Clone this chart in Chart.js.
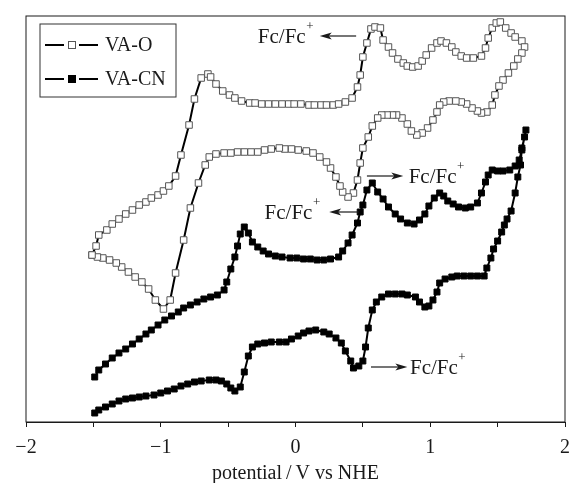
<!DOCTYPE html>
<html lang="en">
  <head>
    <meta charset="UTF-8" />
    <title>VA-O / VA-CN cyclic voltammograms</title>
    <script src="https://cdn.jsdelivr.net/npm/chart.js@4.4.1/dist/chart.umd.min.js"></script>
    <style>
      body { margin: 0; background: #fff; }
      #wrap { width: 579px; height: 483px; position: relative; }
    </style>
  </head>
  <body>
    <div id="wrap"><canvas id="cv"></canvas></div>
    <script>
      const serif = "'Liberation Serif', 'Times New Roman', serif"
      const ink = "#1a1a1a"

      // potential axis ticks
      const potentialTicks = [-2, -1, 0, 1, 2]
      const tickLabels = ["\u22122", "\u22121", "0", "1", "2"]

      // VA-O loop (potential in V, current in arbitrary units)
      const vaoPotential = [
        -1.51, -1.48, -1.46, -1.40, -1.36, -1.31, -1.26, -1.21, -1.16, -1.11,
        -1.07, -1.02, -0.98, -0.94, -0.89, -0.85, -0.79, -0.75, -0.70, -0.65,
        -0.63, -0.59, -0.54, -0.49, -0.45, -0.40, -0.34, -0.30, -0.25, -0.20,
        -0.15, -0.10, -0.05, -0.01, 0.04, 0.10, 0.14, 0.19, 0.23, 0.28,
        0.32, 0.37, 0.42, 0.46, 0.48, 0.50, 0.53, 0.56, 0.59, 0.63,
        0.65, 0.69, 0.72, 0.76, 0.80, 0.83, 0.87, 0.91, 0.94, 0.97,
        1.01, 1.05, 1.08, 1.12, 1.16, 1.19, 1.23, 1.27, 1.32, 1.38,
        1.41, 1.43, 1.46, 1.49, 1.52, 1.56, 1.60, 1.63, 1.68, 1.70,
        1.68, 1.65, 1.62, 1.58, 1.54, 1.51, 1.48, 1.46, 1.42, 1.38,
        1.35, 1.31, 1.27, 1.23, 1.19, 1.14, 1.10, 1.07, 1.05, 1.02,
        0.98, 0.94, 0.90, 0.86, 0.83, 0.79, 0.75, 0.72, 0.68, 0.64,
        0.61, 0.57, 0.54, 0.50, 0.48, 0.46, 0.43, 0.39, 0.35, 0.33,
        0.30, 0.26, 0.23, 0.18, 0.13, 0.08, 0.02, -0.03, -0.08, -0.12,
        -0.18, -0.23, -0.28, -0.33, -0.38, -0.43, -0.48, -0.53, -0.59, -0.64,
        -0.67, -0.72, -0.78, -0.83, -0.89, -0.93, -0.98, -1.04, -1.09, -1.14,
        -1.19, -1.24, -1.29, -1.33, -1.38, -1.43, -1.47, -1.51
      ]
      const vaoCurrent = [
        167, 176, 187, 192, 198, 203, 208, 212, 217, 220,
        224, 227, 231, 236, 246, 267, 297, 323, 344, 348,
        345, 338, 331, 327, 324, 321, 319, 319, 318, 318,
        318, 318, 318, 318, 318, 317, 317, 317, 317, 317,
        318, 320, 324, 335, 347, 365, 379, 393, 395, 394,
        382, 375, 369, 363, 359, 356, 355, 356, 361, 367,
        374, 379, 381, 379, 375, 370, 366, 364, 364, 366,
        374, 384, 394, 399, 400, 394, 389, 385, 381, 375,
        369, 363, 356, 349, 342, 336, 327, 317, 310, 309,
        311, 314, 318, 320, 321, 321, 320, 317, 310, 302,
        294, 289, 287, 291, 298, 304, 307, 307, 307, 307,
        304, 296, 285, 274, 259, 242, 229, 225, 230, 236,
        245, 254, 260, 265, 269, 271, 272, 273, 273, 274,
        273, 272, 270, 270, 270, 270, 269, 269, 268, 265,
        257, 239, 214, 182, 149, 122, 113, 122, 133, 140,
        145, 150, 155, 159, 162, 164, 165, 167
      ]

      // VA-CN scan
      const vacnPotential = [
        -1.49, -1.46, -1.41, -1.36, -1.31, -1.26, -1.21, -1.16, -1.11, -1.05,
        -1.00, -0.95, -0.90, -0.85, -0.80, -0.75, -0.70, -0.64, -0.59, -0.55,
        -0.51, -0.48, -0.45, -0.41, -0.38, -0.35, -0.32, -0.28, -0.23, -0.18,
        -0.12, -0.07, -0.03, 0.02, 0.06, 0.10, 0.15, 0.21, 0.25, 0.30,
        0.34, 0.37, 0.41, 0.43, 0.47, 0.50, 0.52, 0.54, 0.57, 0.60,
        0.64, 0.69, 0.74, 0.79, 0.83, 0.89, 0.92, 0.96, 0.99, 1.02,
        1.05, 1.07, 1.11, 1.16, 1.20, 1.25, 1.30, 1.35, 1.40, 1.42,
        1.45, 1.47, 1.50, 1.53, 1.55, 1.57, 1.60, 1.63, 1.65, 1.67,
        1.68, 1.70, 1.71,
        1.68, 1.66, 1.63, 1.59, 1.54, 1.50, 1.46, 1.43, 1.41, 1.38,
        1.35, 1.30, 1.26, 1.21, 1.17, 1.13, 1.10, 1.07, 1.03, 0.99,
        0.96, 0.92, 0.88, 0.83, 0.78, 0.74, 0.69, 0.65, 0.61, 0.57,
        0.53, 0.50, 0.48, 0.46, 0.42, 0.39, 0.35, 0.32, 0.26, 0.21,
        0.16, 0.11, 0.06, 0.01, -0.04, -0.10, -0.15, -0.20, -0.24, -0.28,
        -0.32, -0.35, -0.38, -0.41, -0.43, -0.45, -0.48, -0.51, -0.53, -0.58,
        -0.63, -0.68, -0.73, -0.78, -0.83, -0.87, -0.92, -0.97, -1.02, -1.07,
        -1.11, -1.16, -1.21, -1.26, -1.31, -1.36, -1.41, -1.46, -1.49
      ]
      const vacnCurrent = [
        9, 12, 15, 18, 21, 23, 24, 25, 26, 27,
        29, 31, 33, 36, 38, 40, 41, 42, 42, 41,
        38, 34, 31, 35, 50, 66, 75, 78, 79, 80,
        80, 80, 83, 86, 89, 91, 92, 90, 88, 84,
        79, 71, 61, 54, 56, 61, 75, 94, 112, 120,
        125, 128, 128, 128, 127, 125, 120, 115, 116, 122,
        130, 139, 143, 145, 146, 146, 146, 146, 146, 154,
        164, 173, 181, 190, 197, 203, 211, 229, 245, 257,
        274, 285, 292,
        272, 262, 256, 252, 251, 251, 252, 247, 240, 229,
        219, 215, 214, 215, 218, 221, 226, 229, 224, 216,
        208, 202, 198, 199, 203, 208, 215, 223, 230, 239,
        232, 217, 210, 199, 187, 179, 171, 165, 163, 162,
        162, 163, 163, 164, 164, 165, 166, 168, 171, 175,
        180, 189, 195, 188, 176, 165, 153, 140, 132, 127,
        125, 123, 120, 117, 114, 110, 106, 102, 97, 92,
        88, 83, 78, 73, 69, 64, 58, 52, 45
      ]

      // Fc/Fc+ notes: text anchor, arrow tail and tip (V), height (a.u.)
      const fcNotes = [
        { side: "left", textAt: 0.13, tail: 0.45, tip: 0.18, y: 386 },
        { side: "right", textAt: 0.84, tail: 0.53, tip: 0.8, y: 246 },
        { side: "left", textAt: 0.18, tail: 0.47, tip: 0.25, y: 210 },
        { side: "right", textAt: 0.85, tail: 0.56, tip: 0.83, y: 55 }
      ]

      function toPoints(xs, ys) {
        return xs.map((x, i) => ({ x: x, y: ys[i] }))
      }

      function drawFc(ctx, x, y, side) {
        ctx.font = `21px ${serif}`
        const wMain = ctx.measureText("Fc/Fc").width
        ctx.font = `13px ${serif}`
        const wPlus = ctx.measureText("+").width
        const start = side === "left" ? x - wMain - wPlus : x
        ctx.textAlign = "left"
        ctx.textBaseline = "middle"
        ctx.font = `21px ${serif}`
        ctx.fillText("Fc/Fc", start, y + 1)
        ctx.font = `13px ${serif}`
        ctx.fillText("+", start + wMain + 0.5, y - 9)
      }

      const extras = {
        id: "extras",
        afterDraw(chart) {
          const { ctx, chartArea: a, scales } = chart
          const xs = scales.x
          const ys = scales.y
          ctx.save()
          ctx.strokeStyle = ink
          ctx.lineWidth = 1
          ctx.strokeRect(a.left, a.top, a.right - a.left, a.bottom - a.top)

          // legend box
          const lx = a.left + 14
          const ly = a.top + 8
          ctx.strokeStyle = "#333"
          ctx.strokeRect(lx, ly, 136, 73)
          chart.data.datasets.forEach((ds, i) => {
            const cy = ly + 21 + i * 34
            ctx.strokeStyle = "#000"
            ctx.lineWidth = 2
            ctx.beginPath()
            ctx.moveTo(lx + 5, cy)
            ctx.lineTo(lx + 24, cy)
            ctx.moveTo(lx + 39, cy)
            ctx.lineTo(lx + 58, cy)
            ctx.stroke()
            ctx.lineWidth = 1
            ctx.fillStyle = ds.pointBackgroundColor
            ctx.strokeStyle = ds.pointBorderColor
            ctx.fillRect(lx + 28.5, cy - 3.5, 7, 7)
            ctx.strokeRect(lx + 28.5, cy - 3.5, 7, 7)
            ctx.fillStyle = ink
            ctx.font = `20px ${serif}`
            ctx.textAlign = "left"
            ctx.textBaseline = "middle"
            ctx.fillText(ds.label, lx + 65, cy + 1)
          })

          // Fc/Fc+ arrows
          ctx.fillStyle = ink
          ctx.strokeStyle = ink
          fcNotes.forEach((n) => {
            const y = ys.getPixelForValue(n.y)
            const tail = xs.getPixelForValue(n.tail)
            const tip = xs.getPixelForValue(n.tip)
            const dir = Math.sign(tip - tail)
            ctx.lineWidth = 1.2
            ctx.beginPath()
            ctx.moveTo(tail, y)
            ctx.lineTo(tip - dir * 8, y)
            ctx.stroke()
            ctx.beginPath()
            ctx.moveTo(tip, y)
            ctx.lineTo(tip - dir * 12, y - 3.5)
            ctx.lineTo(tip - dir * 9, y)
            ctx.lineTo(tip - dir * 12, y + 3.5)
            ctx.closePath()
            ctx.fill()
            drawFc(ctx, xs.getPixelForValue(n.textAt), y, n.side)
          })
          ctx.restore()
        }
      }

      new Chart(document.getElementById("cv"), {
        type: "scatter",
        data: {
          datasets: [
            {
              label: "VA-O",
              data: toPoints(vaoPotential, vaoCurrent),
              showLine: true,
              borderColor: "#000",
              borderWidth: 2,
              pointStyle: "rect",
              pointRadius: 4.6,
              pointBackgroundColor: "#fff",
              pointBorderColor: "#555",
              pointBorderWidth: 1
            },
            {
              label: "VA-CN",
              data: toPoints(vacnPotential, vacnCurrent),
              showLine: true,
              borderColor: "#000",
              borderWidth: 2,
              pointStyle: "rect",
              pointRadius: 4.2,
              pointBackgroundColor: "#000",
              pointBorderColor: "#000",
              pointBorderWidth: 1
            }
          ]
        },
        options: {
          responsive: true,
          maintainAspectRatio: false,
          animation: false,
          layout: { padding: { left: 26, top: 16, right: 7, bottom: 0 } },
          plugins: { legend: { display: false }, tooltip: { enabled: false } },
          scales: {
            x: {
              type: "linear",
              min: -2,
              max: 2,
              afterFit(scale) {
                scale.height = 61
              },
              grid: { drawOnChartArea: false, drawTicks: true, tickLength: 5, color: ink },
              border: { display: true, color: ink, width: 1 },
              ticks: {
                stepSize: 0.5,
                autoSkip: false,
                maxRotation: 0,
                padding: 9,
                color: ink,
                font: { family: serif, size: 20 },
                callback: (v) => {
                  const i = potentialTicks.indexOf(v)
                  return i < 0 ? "" : tickLabels[i]
                }
              },
              title: {
                display: true,
                text: "potential\u2009/\u2009V vs NHE",
                color: ink,
                font: { family: serif, size: 20 },
                padding: { top: 0, bottom: -3 }
              }
            },
            y: { type: "linear", min: 0, max: 406, display: false }
          }
        },
        plugins: [extras]
      })
    </script>
  </body>
</html>
